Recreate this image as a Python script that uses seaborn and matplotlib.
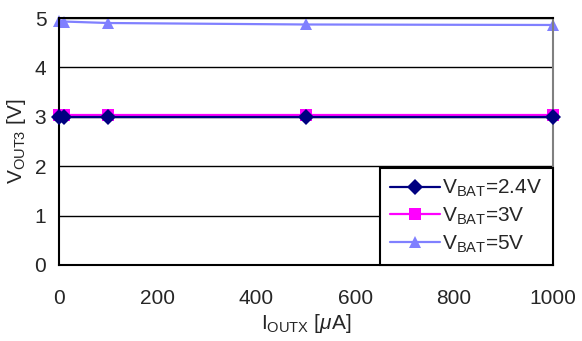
import numpy as np
import seaborn as sns
import matplotlib.pyplot as plt
import pandas as pd

# Corrente de saída (uA) e tensões medidas
i_outx = [0, 10, 100, 500, 1000]
v_bat_24 = [3.00, 3.00, 3.00, 3.00, 3.00]
v_bat_3 = [3.03, 3.03, 3.03, 3.03, 3.03]
v_bat_5 = [4.95, 4.93, 4.90, 4.87, 4.86]
series_names = ['$\\mathregular{V_{BAT}}$=2.4V', '$\\mathregular{V_{BAT}}$=3V', '$\\mathregular{V_{BAT}}$=5V']

rows = []
for name, vals in zip(series_names, [v_bat_24, v_bat_3, v_bat_5]):
    for x, v in zip(i_outx, vals):
        rows.append({'i': x, 'v': v, 'serie': name})
df = pd.DataFrame(rows)

sns.set_style('white')
plt.rcParams['font.family'] = ['Liberation Sans', 'DejaVu Sans']
plt.rcParams['mathtext.fontset'] = 'custom'
plt.rcParams['mathtext.rm'] = 'Liberation Sans'
plt.rcParams['mathtext.it'] = 'Liberation Sans:italic'

fig = plt.figure(figsize=(5.82, 3.41), dpi=100)
ax = fig.add_axes([0.101, 0.223, 0.849, 0.724])

cores = ['#000080', '#FF00FF', '#8080FF']
sns.lineplot(data=df, x='i', y='v', hue='serie', style='serie', palette=cores,
             markers=['D', 's', '^'], dashes=False, markersize=8.5, linewidth=1.6,
             markeredgewidth=0, ax=ax)
for line in ax.lines:
    line.set_clip_on(False)
# os losangos aparecem por cima dos quadrados
ax.lines[0].set_zorder(3)

ax.set_xlim(0, 1000)
ax.set_ylim(0, 5)
ax.set_xticks(range(0, 1001, 200))
ax.set_yticks(range(0, 6))
ax.yaxis.grid(True, color='black', linewidth=1)
ax.set_axisbelow(True)
ax.tick_params(axis='x', direction='in', length=4, width=1, labelsize=15, pad=17)
ax.tick_params(axis='y', length=0, labelsize=15, pad=9)
for s in ['left', 'bottom', 'top']:
    ax.spines[s].set_color('black')
    ax.spines[s].set_linewidth(1.5)
ax.spines['right'].set_color('#808080')
ax.spines['right'].set_linewidth(1.5)

ax.set_xlabel('$\\mathregular{I_{OUTX}}$ [$\\mathit{\\mu}$A]', fontsize=15, labelpad=3)
ax.set_ylabel('$\\mathregular{V_{OUT3}}$ [V]', fontsize=15, labelpad=5)

leg = ax.legend(loc='lower right', fontsize=15, frameon=True, fancybox=False,
                borderaxespad=0, handlelength=2.4, handletextpad=0.1,
                labelspacing=0.3, borderpad=0.5, framealpha=1)
leg.get_frame().set_edgecolor('black')
leg.get_frame().set_linewidth(1.5)

plt.savefig('out.png', dpi=100)
